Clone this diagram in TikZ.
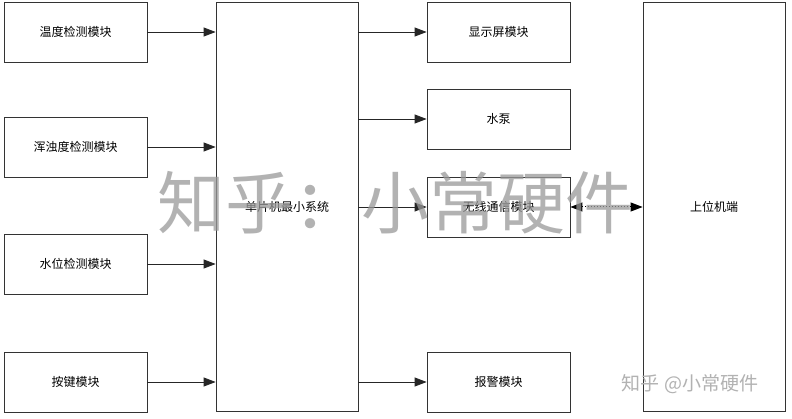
\documentclass[tikz,border=0pt]{standalone}
\usepackage{fontspec}
\setmainfont{Noto Sans CJK SC}
\usetikzlibrary{arrows.meta}
\begin{document}
\begin{tikzpicture}[x=1pt,y=-1pt,
  blk/.style={draw=black!80, line width=0.8pt, fill=white, inner sep=0pt, font=\fontsize{12}{14}\selectfont},
  conn/.style={draw=black!85, line width=0.8pt, -{Triangle[length=12pt,width=9pt]}},
  link/.style={draw=black, line width=1pt, dotted, {Triangle[length=12pt,width=9pt]}-{Triangle[length=12pt,width=9pt]}}]
\useasboundingbox[fill=white] (0,0) rectangle (792,419);
% left column
\node[blk, minimum width=143pt, minimum height=60pt] (temp) at (75.5,32) {温度检测模块};
\node[blk, minimum width=143pt, minimum height=60pt] (turb) at (75.5,147) {浑浊度检测模块};
\node[blk, minimum width=143pt, minimum height=60pt] (level) at (75.5,264) {水位检测模块};
\node[blk, minimum width=143pt, minimum height=60pt] (key) at (75.5,382) {按键模块};
% MCU
\node[blk, minimum width=142pt, minimum height=409pt] (mcu) at (287,206.5) {单片机最小系统};
% right column
\node[blk, minimum width=143pt, minimum height=60pt] (disp) at (498.5,32) {显示屏模块};
\node[blk, minimum width=143pt, minimum height=60pt] (pump) at (498.5,119) {水泵};
\node[blk, minimum width=143pt, minimum height=60pt] (wifi) at (498.5,207) {无线通信模块};
\node[blk, minimum width=143pt, minimum height=60pt] (alarm) at (498.5,382) {报警模块};
% host
\node[blk, minimum width=142pt, minimum height=409pt] (host) at (714,206.5) {上位机端};
% connectors
\draw[conn] (temp.east) -- (temp.east -| mcu.west);
\draw[conn] (turb.east) -- (turb.east -| mcu.west);
\draw[conn] (level.east) -- (level.east -| mcu.west);
\draw[conn] (key.east) -- (key.east -| mcu.west);
\draw[conn] (disp.west -| mcu.east) -- (disp.west);
\draw[conn] (pump.west -| mcu.east) -- (pump.west);
\draw[conn] (wifi.west -| mcu.east) -- (wifi.west);
\draw[conn] (alarm.west -| mcu.east) -- (alarm.west);
\draw[link] (wifi.east) -- (wifi.east -| host.west);
% watermarks
\node[text=black!40, opacity=0.75, font=\fontsize{68}{70}\selectfont, inner sep=0pt] (wm) at (395,203) {知乎：小常硬件};
\node[text=black!30, font=\fontsize{19}{21}\selectfont, inner sep=0pt] (wm2) at (690,384) {知乎 @小常硬件};
\end{tikzpicture}
\end{document}
